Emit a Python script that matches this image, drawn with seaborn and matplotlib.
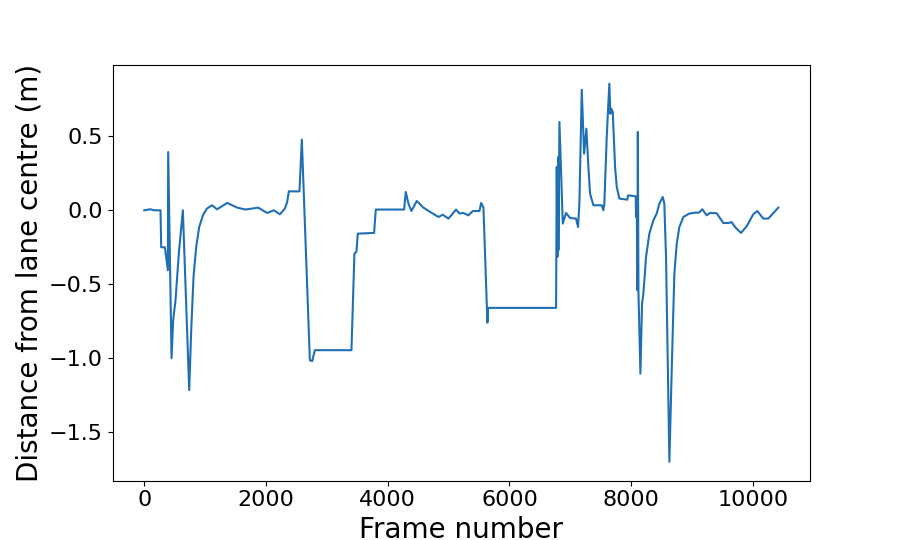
import numpy as np
import pandas as pd
import matplotlib
matplotlib.use("Agg")
import matplotlib.pyplot as plt
import seaborn as sns

# frame index and lateral offset
frames = [0, 104, 159, 268, 279, 339, 389, 394, 449, 476,
          514, 569, 635, 679, 739, 772, 810, 854, 903, 964,
          1029, 1111, 1199, 1363, 1527, 1664, 1872, 2020, 2129, 2228, 2310,
          2348, 2376, 2550, 2589, 2721, 2759, 2803, 3404, 3453, 3486,
          3508, 3776, 3804, 4269, 4296, 4340, 4389, 4477, 4586, 4696,
          4833, 4904, 4997, 5123, 5178, 5243, 5325, 5397, 5506, 5534,
          5572, 5627, 5637, 5648, 6765, 6776, 6787, 6798, 6803, 6820,
          6875, 6929, 6995, 7093, 7126, 7148, 7187, 7225, 7263, 7296,
          7323, 7378, 7515, 7542, 7558, 7597, 7640, 7657, 7673, 7696,
          7734, 7762, 7805, 7936, 7947, 8073, 8078, 8090, 8100, 8108,
          8118, 8150, 8177, 8199, 8243, 8297, 8363, 8418, 8461, 8517,
          8543, 8571, 8626, 8670, 8708, 8747, 8790, 8856, 8954, 9047,
          9113, 9167, 9239, 9294, 9403, 9512, 9594, 9649, 9704, 9802,
          9896, 10004, 10070, 10169, 10251, 10415]

offsets = [0.0, 0.007, 0.0, 0.0, -0.25, -0.25, -0.405, 0.394, -1.0, -0.74,
           -0.61, -0.29, 0.0, -0.52, -1.216, -0.81, -0.45, -0.248, -0.113, -0.034,
           0.011, 0.034, 0.007, 0.05, 0.018, 0.005, 0.018, -0.018, 0.0, -0.027, 0.011,
           0.056, 0.128, 0.128, 0.478, -1.014, -1.02, -0.946, -0.946, -0.293, -0.28,
           -0.158, -0.153, 0.005, 0.005, 0.124, 0.045, -0.005, 0.063, 0.018, -0.011,
           -0.045, -0.03, -0.056, 0.005, -0.022, -0.018, -0.034, -0.005, -0.005, 0.05,
           0.018, -0.653, -0.76, -0.66, -0.66, 0.293, -0.315, 0.36, -0.27, 0.597,
           -0.09, -0.018, -0.052, -0.056, -0.113, 0.047, 0.815, 0.383, 0.552, 0.293,
           0.113, 0.034, 0.034, 0.0, 0.045, 0.495, 0.856, 0.653, 0.687, 0.665,
           0.293, 0.157, 0.079, 0.072, 0.101, 0.095, -0.045, 0.09, -0.54, 0.53,
           -0.55, -1.104, -0.63, -0.563, -0.315, -0.158, -0.068, -0.022, 0.045, 0.09,
           0.045, -0.315, -1.70, -0.99, -0.428, -0.225, -0.113, -0.045, -0.022, -0.016,
           -0.016, 0.007, -0.034, -0.018, -0.02, -0.086, -0.086, -0.08, -0.113, -0.153,
           -0.108, -0.027, -0.005, -0.056, -0.056, 0.018]

df = pd.DataFrame({"frame": frames, "offset": offsets})

fig, ax = plt.subplots(figsize=(9, 5.4), dpi=100)
sns.lineplot(data=df, x="frame", y="offset", ax=ax, estimator=None,
             sort=False, color="#1f6fb4", linewidth=1.5)
ax.set_xlabel("Frame number", fontsize=20)
ax.set_ylabel("Distance from lane centre (m)", fontsize=20)
ax.tick_params(labelsize=16)
fig.savefig("out.png", dpi=100)
plt.close(fig)
